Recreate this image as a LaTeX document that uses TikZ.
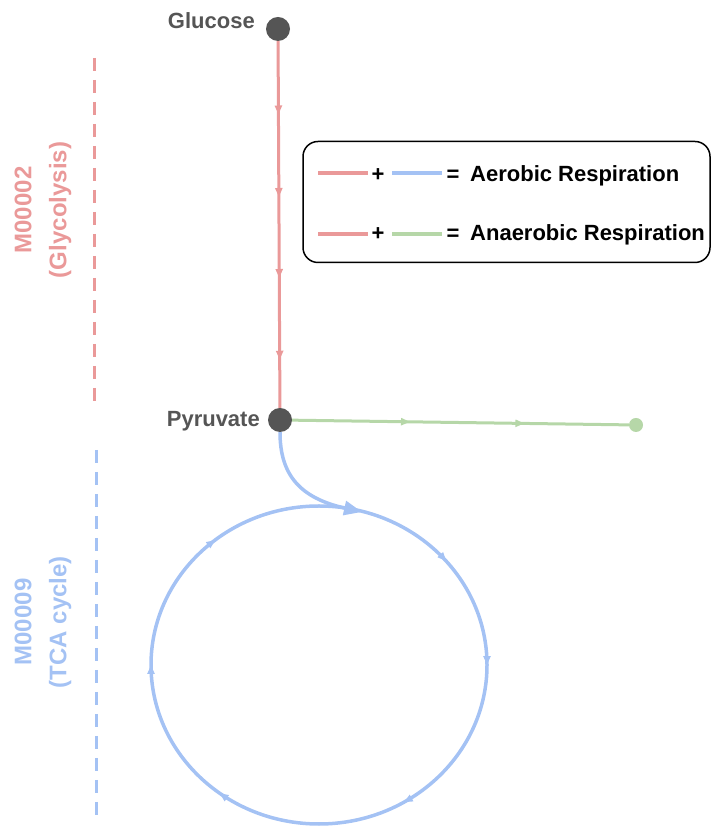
\documentclass[tikz,border=0pt]{standalone}
\usepackage{fontspec}
\setmainfont{Liberation Sans}
\usetikzlibrary{arrows.meta,decorations.markings}
\definecolor{gly}{HTML}{EA9999}
\definecolor{tca}{HTML}{A4C2F4}
\definecolor{ana}{HTML}{B6D7A8}
\definecolor{nodegray}{HTML}{555555}
\begin{document}
\begin{tikzpicture}[x=1pt,y=1pt,
  metab/.style={circle,fill=nodegray,minimum size=24pt,inner sep=0pt},
  endpt/.style={circle,fill=ana,minimum size=14pt,inner sep=0pt},
  lbl/.style={font=\bfseries\fontsize{22}{26}\selectfont,text=nodegray,inner sep=0pt},
  legtxt/.style={font=\bfseries\fontsize{22}{26}\selectfont,text=black,inner sep=0pt},
  sidelbl/.style={font=\bfseries\fontsize{24}{35}\selectfont,rotate=90,align=center,inner sep=0pt},
  tri/.tip={Triangle[length=9pt,width=7pt]},
  sidedash/.style={line width=3pt,dash pattern=on 13pt off 9pt}
]
\useasboundingbox (0,0) rectangle (712,826);

% side labels
\node[sidelbl,text=gly] (glylbl) at (43,616) {M00002\\(Glycolysis)};
\node[sidelbl,text=tca] (tcalbl) at (43,204) {M00009\\(TCA cycle)};
\draw[sidedash,gly] (94,768) -- (94,419);
\draw[sidedash,tca] (96,376) -- (96,3);

% metabolites
\node[metab] (glc) at (278,797) {};
\node[metab] (pyr) at (280,406) {};
\node[endpt] (lac) at (636,401) {};
\node[lbl,anchor=base east] (glcl) at (255,797) {Glucose};
\node[lbl,anchor=base east] (pyrl) at (260,399) {Pyruvate};

% glycolysis
\draw[gly,line width=3pt,postaction={decorate},
  decoration={markings,
    mark=at position 0.20 with {\arrow{tri}},
    mark=at position 0.425 with {\arrow{tri}},
    mark=at position 0.646 with {\arrow{tri}},
    mark=at position 0.869 with {\arrow{tri}}}]
  (glc) -- (pyr);

% anaerobic
\draw[ana,line width=3pt,postaction={decorate},
  decoration={markings,
    mark=at position 0.35 with {\arrow{tri}},
    mark=at position 0.69 with {\arrow{tri}}}]
  (pyr) -- (lac);

% TCA cycle
\coordinate (tcac) at (319,161);
\coordinate (entry) at (362,314);
\draw[tca,line width=3.5pt,postaction={decorate},
  decoration={markings,
    mark=at position 0.139 with {\arrow{tri}},
    mark=at position 0.25 with {\arrow{tri}},
    mark=at position 0.414 with {\arrow{tri}},
    mark=at position 0.603 with {\arrow{tri}},
    mark=at position 0.75 with {\arrow{tri}},
    mark=at position 0.892 with {\arrow{tri}}}]
  ([yshift=159pt]tcac) arc[start angle=90,end angle=-270,x radius=168,y radius=159];
\draw[tca,line width=3.5pt,-{Triangle[length=18pt,width=14pt]}]
  (pyr.south) .. controls (280,351) and (300,328) .. (entry);

% legend
\node[draw=black,rounded corners=15pt,line width=1.5pt,minimum width=407pt,minimum height=121pt,inner sep=0pt] (legend) at (506.5,624) {};
\draw[gly,line width=4pt] (318,653) -- (368,653);
\node[legtxt,anchor=base] (plus1) at (378,644) {+};
\draw[tca,line width=4pt] (392,653) -- (442,653);
\node[legtxt,anchor=base] (eq1) at (453,644) {=};
\node[legtxt,anchor=base west] (aer) at (470,644) {Aerobic Respiration};
\draw[gly,line width=4pt] (318,592) -- (368,592);
\node[legtxt,anchor=base] (plus2) at (378,585) {+};
\draw[ana,line width=4pt] (392,592) -- (442,592);
\node[legtxt,anchor=base] (eq2) at (453,585) {=};
\node[legtxt,anchor=base west] (anaer) at (470,585) {Anaerobic Respiration};
\end{tikzpicture}
\end{document}
